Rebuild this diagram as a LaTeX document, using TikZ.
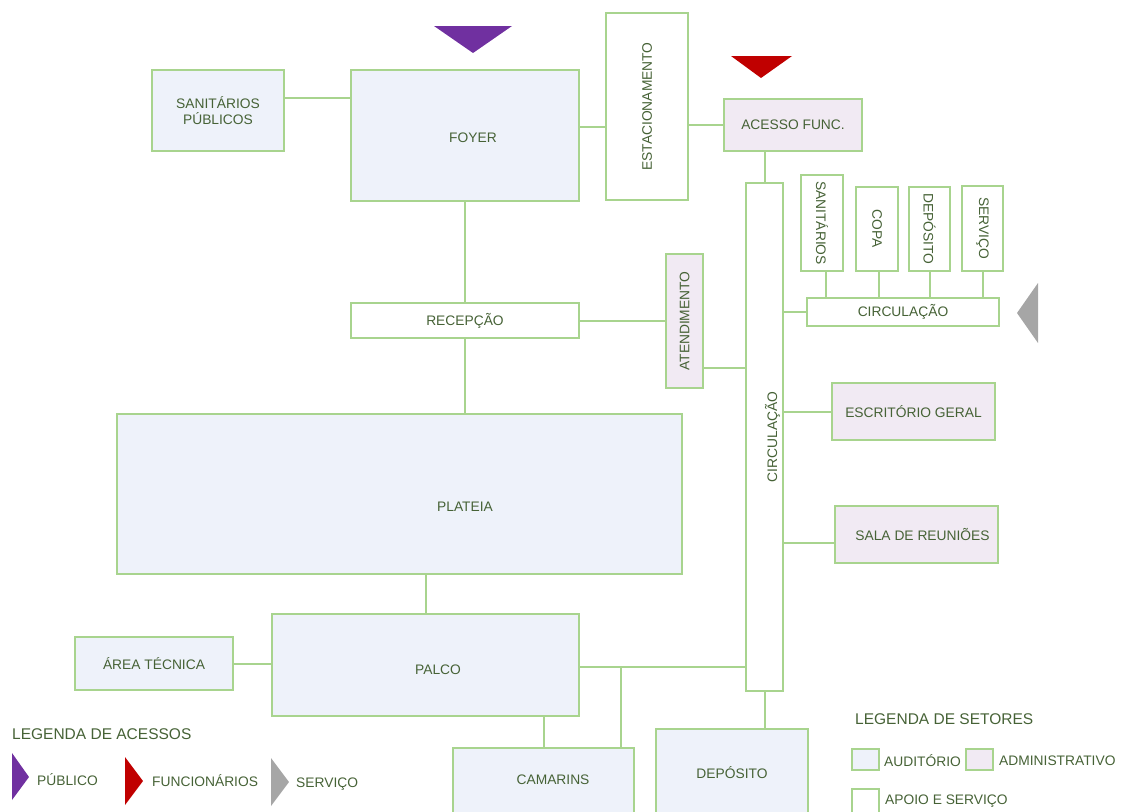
\documentclass[tikz,border=0pt]{standalone}
\usepackage{fontspec}
\setmainfont{Liberation Sans}
\usetikzlibrary{calc}

\definecolor{edge}{RGB}{168,212,142}
\definecolor{ink}{RGB}{70,98,54}
\definecolor{audfill}{RGB}{238,242,250}
\definecolor{admfill}{RGB}{241,234,243}
\definecolor{pubcol}{RGB}{112,48,160}
\definecolor{funcol}{RGB}{192,0,0}
\definecolor{sercol}{RGB}{166,166,166}

\tikzset{
  room/.style={draw=edge, line width=2pt, inner sep=0pt, text=ink,
    font=\fontsize{13.8}{15.5}\selectfont, align=center},
  aud/.style={room, fill=audfill},
  adm/.style={room, fill=admfill},
  sup/.style={room, fill=white},
  lbl/.style={text=ink, inner sep=0pt, font=\fontsize{13.8}{15.5}\selectfont},
  legtitle/.style={text=ink, inner sep=0pt, anchor=west, font=\fontsize{15.5}{18}\selectfont},
  legtext/.style={text=ink, inner sep=0pt, anchor=west, font=\fontsize{13.8}{15.5}\selectfont},
  link/.style={draw=edge, line width=2pt},
  box/.style={minimum width=#1},
  tall/.style={minimum height=#1},
}

\newcommand{\up}[1]{\rotatebox{90}{#1}}
\newcommand{\down}[1]{\rotatebox{-90}{#1}}

\begin{document}
\begin{tikzpicture}[x=1pt, y=-1pt]
\useasboundingbox (0,0) rectangle (1121,811);

% ---- rooms ----
\node[aud, box=132, tall=81] (sanpub) at (218,110.5) {SANITÁRIOS\\PÚBLICOS};
\node[aud, box=228, tall=131,
      label={[lbl, xshift=8pt, yshift=-2.5pt]center:FOYER}] (foyer) at (465,135.5) {};
\node[sup, box=82, tall=187] (estac) at (647,106.5) {\up{ESTACIONAMENTO}};
\node[adm, box=138, tall=52] (acesso) at (793,125) {ACESSO FUNC.};
\node[sup, box=37, tall=508,
      label={[lbl, rotate=90, yshift=-8pt]center:CIRCULAÇÃO}] (circv) at (764.5,437) {};

\node[sup, box=42, tall=96] (san) at (822,223) {\down{SANITÁRIOS}};
\node[sup, box=42, tall=84] (copa) at (877,229) {\down{COPA}};
\node[sup, box=41, tall=84] (dep) at (929.5,229) {\down{DEPÓSITO}};
\node[sup, box=41, tall=85] (serv) at (982.5,228.5) {\down{SERVIÇO}};
\node[sup, box=192, tall=28] (circh) at (903,312) {CIRCULAÇÃO};

\node[sup, box=228, tall=35] (recep) at (465,320.5) {RECEPÇÃO};
\node[adm, box=37, tall=134] (atend) at (684.5,321) {\up{ATENDIMENTO}};
\node[aud, box=565, tall=160,
      label={[lbl, xshift=65.5pt, yshift=-13pt]center:PLATEIA}] (plateia) at (399.5,494) {};
\node[adm, box=163, tall=57] (escr) at (913.5,411.5) {ESCRITÓRIO GERAL};
\node[adm, box=163, tall=57,
      label={[lbl, xshift=6pt]center:SALA DE REUNIÕES}] (sala) at (916.5,534.5) {};
\node[aud, box=307, tall=102,
      label={[lbl, xshift=12.5pt, yshift=-5pt]center:PALCO}] (palco) at (425.5,665) {};
\node[aud, box=158, tall=53] (area) at (154,663.5) {ÁREA TÉCNICA};
\node[aud, box=181, tall=77,
      label={[lbl, xshift=9.5pt, yshift=6.5pt]center:CAMARINS}] (camarins) at (543.5,786.5) {};
\node[aud, box=152, tall=96,
      label={[lbl, yshift=4pt]center:DEPÓSITO}] (depbot) at (732,777) {};

% ---- connections ----
\draw[link] (sanpub.east |- 0,98) -- (foyer.west |- 0,98);
\draw[link] (foyer.east |- 0,127) -- (estac.west |- 0,127);
\draw[link] (estac.east |- 0,125) -- (acesso.west);
\draw[link] (circv.north |- acesso.south) -- (circv.north);
\draw[link] (foyer.south) -- (recep.north);
\draw[link] (recep.south) -- (recep.south |- plateia.north);
\draw[link] (recep.east) -- (atend.west |- recep.east);
\draw[link] (atend.east |- 0,368) -- (circv.west |- 0,368);
\draw[link] (circv.east |- circh.west) -- (circh.west);
\draw[link] ([xshift=4pt]san.south) -- ([xshift=4pt]san.south |- circh.north);
\draw[link] ([xshift=2pt]copa.south) -- ([xshift=2pt]copa.south |- circh.north);
\draw[link] (dep.south) -- (dep.south |- circh.north);
\draw[link] (serv.south) -- (serv.south |- circh.north);
\draw[link] (circv.east |- escr.west) -- (escr.west);
\draw[link] (circv.east |- 0,543) -- (sala.west |- 0,543);
\draw[link] (palco.north |- plateia.south) -- (palco.north);
\draw[link] (area.east) -- (area.east -| palco.west);
\draw[link] (palco.east |- 0,667) -- (circv.west |- 0,667);
\coordinate (junc) at (621,667);
\draw[link] (junc) -- (junc |- camarins.north);
\draw[link] (camarins.north |- palco.south) -- (camarins.north);
\draw[link] (circv.south) -- (circv.south |- depbot.north);

% ---- access markers ----
\fill[pubcol] (434,26) -- (512,26) -- (473,53) -- cycle;
\fill[funcol] (731,56) -- (792,56) -- (761,78) -- cycle;
\fill[sercol] (1038,283) -- (1038,343) -- (1017,313) -- cycle;

% ---- access legend ----
\node[legtitle] (legacc) at (12,734) {LEGENDA DE ACESSOS};
\fill[pubcol] (12,753) -- (12,800) -- (29,777) -- cycle;
\node[legtext] (lpub) at (37,780) {PÚBLICO};
\fill[funcol] (125,757) -- (125,805) -- (143,781) -- cycle;
\node[legtext] (lfun) at (152,781) {FUNCIONÁRIOS};
\fill[sercol] (271,758) -- (271,806) -- (289,782) -- cycle;
\node[legtext] (lser) at (296,784) {SERVIÇO};

% ---- sector legend ----
\node[legtitle] (legset) at (855,719) {LEGENDA DE SETORES};
\node[aud, box=27, tall=21] (kaud) at (865.5,759.5) {};
\node[legtext] (taud) at (884,761) {AUDITÓRIO};
\node[adm, box=27, tall=21] (kadm) at (979.5,759.5) {};
\node[legtext] (tadm) at (999,761) {ADMINISTRATIVO};
\node[sup, box=27, tall=30] (kapo) at (865.5,804) {};
\node[legtext] (tapo) at (885,801) {APOIO E SERVIÇO};
\end{tikzpicture}
\end{document}
